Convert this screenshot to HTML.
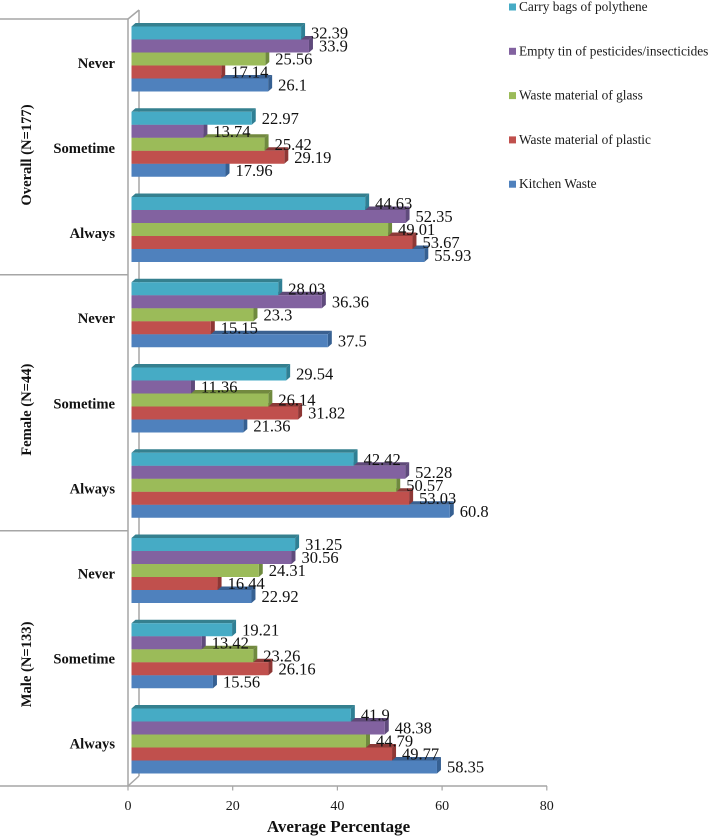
<!DOCTYPE html>
<html>
<head>
<meta charset="utf-8">
<title>Average Percentage Chart</title>
<style>
html,body{margin:0;padding:0;background:#fff;}
svg{display:block;font-family:"Liberation Serif",serif;}
</style>
</head>
<body>
<svg id="chart" width="709" height="838" viewBox="0 0 709 838" xmlns="http://www.w3.org/2000/svg"></svg>
<script>
const responses = ["Never", "Sometime", "Always", "Never", "Sometime", "Always", "Never", "Sometime", "Always"];
const groups = ["Overall (N=177)", "Female (N=44)", "Male (N=133)"];
const carryBags = [32.39, 22.97, 44.63, 28.03, 29.54, 42.42, 31.25, 19.21, 41.9];
const emptyTin = [33.9, 13.74, 52.35, 36.36, 11.36, 52.28, 30.56, 13.42, 48.38];
const glassWaste = [25.56, 25.42, 49.01, 23.3, 26.14, 50.57, 24.31, 23.26, 44.79];
const plasticWaste = [17.14, 29.19, 53.67, 15.15, 31.82, 53.03, 16.44, 26.16, 49.77];
const kitchenWaste = [26.1, 17.96, 55.93, 37.5, 21.36, 60.8, 22.92, 15.56, 58.35];
const seriesNames = ["Carry bags of polythene", "Empty tin of pesticides/insecticides", "Waste material of glass", "Waste material of plastic", "Kitchen Waste"];
const xTicks = [0, 20, 40, 60, 80];

const seriesValues = [carryBags, emptyTin, glassWaste, plasticWaste, kitchenWaste];
const fronts = ["#46abc5", "#8262a0", "#9bbb59", "#c0504d", "#4f81bd"];
const caps = ["#35808f", "#5f4a78", "#72893f", "#8c3a38", "#3a6090"];
const sides = ["#2f7f94", "#5f4a7c", "#6f8a3e", "#8e3735", "#366092"];

const svg = document.getElementById('chart');
const NS = 'http://www.w3.org/2000/svg';
const scale = 5.235;
const depth = 4;
const rise = 3.5;
const rowH = 13;
const groupStep = 85.25;
const firstRowTop = 26.5;

function axisX(v) { return 128 + v * scale; }
function barEnd(v) { return 131.5 + v * scale; }
function rowTop(g, s) { return firstRowTop + g * groupStep + s * rowH; }

function make(tag, attrs, text) {
  const el = document.createElementNS(NS, tag);
  for (const k in attrs) el.setAttribute(k, attrs[k]);
  if (text !== undefined) el.textContent = text;
  svg.appendChild(el);
  return el;
}

const axisStroke = '#a6a6a6';
const wallLines = [
  ['back-wall-line', 139, 10, 139, 776],
  ['y-axis-line', 128, 19, 128, 786],
  ['top-group-line', 0, 19, 128, 19],
  ['top-depth-line', 128, 19, 139, 10],
  ['bottom-depth-line', 128, 786, 139, 776],
  ['x-axis-line', 0, 786, 547, 786],
  ['group-separator-upper', 0, 274.7, 128, 274.7],
  ['group-separator-lower', 0, 530.7, 128, 530.7]
];
wallLines.forEach(function (w) {
  const line = make('line', { x1: w[1], y1: w[2], x2: w[3], y2: w[4], stroke: axisStroke, 'stroke-width': 1.5 });
  
  
});

xTicks.forEach(function (t) {
  const tick = make('line', { x1: axisX(t), y1: 786, x2: axisX(t), y2: 790.5, stroke: axisStroke, 'stroke-width': 1.2 });
  
  
  const label = make('text', { x: axisX(t), y: 810, 'text-anchor': 'middle', 'font-size': 14, fill: '#1a1a1a' }, String(t));
  
  
});

responses.forEach(function (r, g) {
  for (let s = seriesValues.length - 1; s >= 0; s--) {
    const v = seriesValues[s][g];
    const y = rowTop(g, s);
    const xe = barEnd(v);
    const cap = make('polygon', {
      points: [[131.5, y], [131.5 + depth, y - rise], [xe + depth, y - rise], [xe, y]].join(' '),
      fill: caps[s]
    });
    
    
    const side = make('polygon', {
      points: [[xe, y], [xe + depth, y - rise], [xe + depth, y + rowH - rise], [xe, y + rowH]].join(' '),
      fill: sides[s]
    });
    
    
    const front = make('rect', { x: 131.5, y: y, width: xe - 131.5, height: rowH, fill: fronts[s] });
    
    
  }
});

responses.forEach(function (r, g) {
  for (let s = 0; s < seriesValues.length; s++) {
    const v = seriesValues[s][g];
    const label = make('text', {
      x: barEnd(v) + depth + 6,
      y: rowTop(g, s) + rowH / 2 + 5.5,
      'font-size': 16.5,
      fill: '#111'
    }, String(v));
    
    
  }
  const cat = make('text', {
    x: 115,
    y: 63.4 + g * 85.1 + 4.5,
    'text-anchor': 'end',
    'font-size': 14.6,
    'font-weight': 'bold',
    fill: '#111'
  }, r);
  
  
});

groups.forEach(function (name, i) {
  const cy = 155 + i * 254.7;
  const label = make('text', {
    x: 31,
    y: cy,
    transform: 'rotate(-90 31 ' + cy + ')',
    'text-anchor': 'middle',
    'font-size': 14.6,
    'font-weight': 'bold',
    fill: '#111'
  }, name);
  
  
});

seriesNames.forEach(function (name, i) {
  const cy = 7 + i * 44.3;
  const swatch = make('rect', { x: 509, y: cy - 3.5, width: 7, height: 7, fill: fronts[i] });
  
  
  const label = make('text', { x: 519, y: cy + 4, 'font-size': 13.35, fill: '#1a1a1a' }, name);
  
  
});

const title = make('text', { x: 338.5, y: 832, 'text-anchor': 'middle', 'font-size': 17, 'font-weight': 'bold', fill: '#111' }, 'Average Percentage');


</script>
</body>
</html>
